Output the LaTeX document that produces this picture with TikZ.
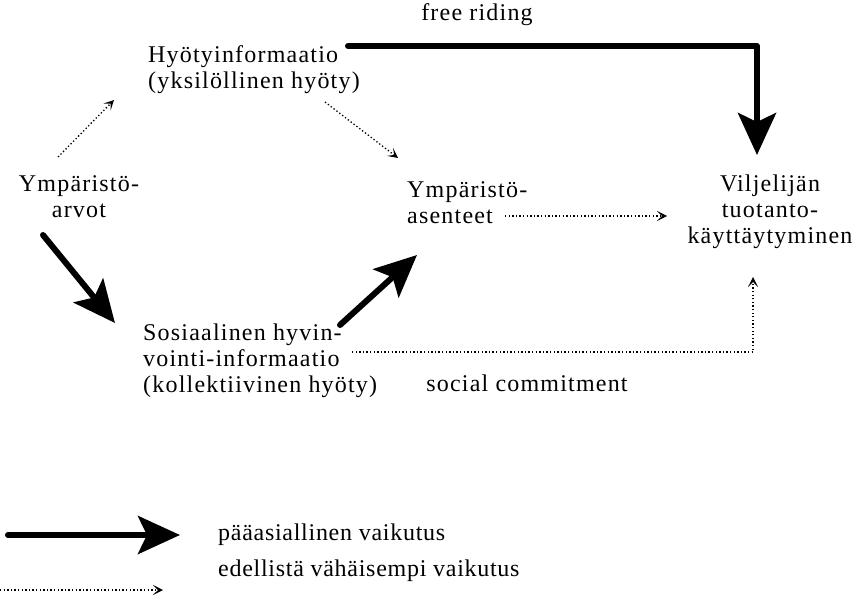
\documentclass[tikz,border=0pt]{standalone}
\usepackage{fontspec}
\setmainfont{Liberation Serif}[LetterSpace=5]
\newfontfamily\legendfont{Liberation Serif}[LetterSpace=3]
\usetikzlibrary{arrows.meta, positioning}

\begin{document}
\begin{tikzpicture}[x=1pt, y=-1pt,
    txt/.style={inner sep=0pt, font=\fontsize{24}{26}\selectfont},
    ltxt/.style={inner sep=0pt, anchor=west, font=\legendfont\fontsize{24}{26}\selectfont},
    major/.style={-{Stealth[length=42pt, width=38pt, inset=9pt]}, line width=6pt,
                  line cap=round, line join=round},
    minor/.style={-{Stealth[length=10pt, width=10pt, inset=5pt]}, line width=1.3pt,
                  dash pattern=on 1.3pt off 2.3pt}
]
\useasboundingbox (0,0) rectangle (854,597);

\node[txt, align=left, anchor=west] (hyoty) at (148,70) {Hyötyinformaatio\\(yksilöllinen hyöty)};
\node[txt, align=center] (arvot) at (79,197) {Ympäristö-\\arvot};
\node[txt, align=left, anchor=west] (asent) at (407,203) {Ympäristö-\\asenteet};
\node[txt, align=center] (vilj) at (770,212) {Viljelijän\\tuotanto-\\käyttäytyminen};
\node[txt, align=left, anchor=west] (sos) at (143,361) {Sosiaalinen hyvin-\\vointi-informaatio\\(kollektiivinen hyöty)};
\node[txt] (free) at (477,15) {free riding};
\node[txt] (social) at (527,383) {social commitment};

\node[ltxt] (paa) at (218,535) {pääasiallinen vaikutus};
\node[ltxt] (vah) at (218,571) {edellistä vähäisempi vaikutus};
\coordinate (paastart) at (8,535);
\coordinate (vahstart) at (0,590);
\coordinate (vahend) at (163,590);

\draw[minor] ([shift={(-21,-40)}]arvot.center) -- ([shift={(-34,30)}]hyoty.west);
\draw[minor] ([shift={(177,32)}]hyoty.west) -- ([shift={(-9,-45)}]asent.west);
\draw[minor] ([shift={(98,13)}]asent.west) -- ([shift={(-103,4)}]vilj.center);
\draw[major] ([shift={(-36,38)}]arvot.center) -- ([shift={(-28,-38)}]sos.west);
\draw[major] ([shift={(197,-36)}]sos.west) -- ([shift={(10,52)}]asent.west);
\draw[minor] ([shift={(209,-9)}]sos.west) -| ([shift={(-17,65)}]vilj.center);
\draw[major] ([shift={(200,-24)}]hyoty.west) -| ([shift={(-13,-57)}]vilj.center);

\draw[major] (paastart) -- ([shift={(-38,0)}]paa.west);
\draw[minor] (vahstart) -- (vahend);

\end{tikzpicture}
\end{document}
